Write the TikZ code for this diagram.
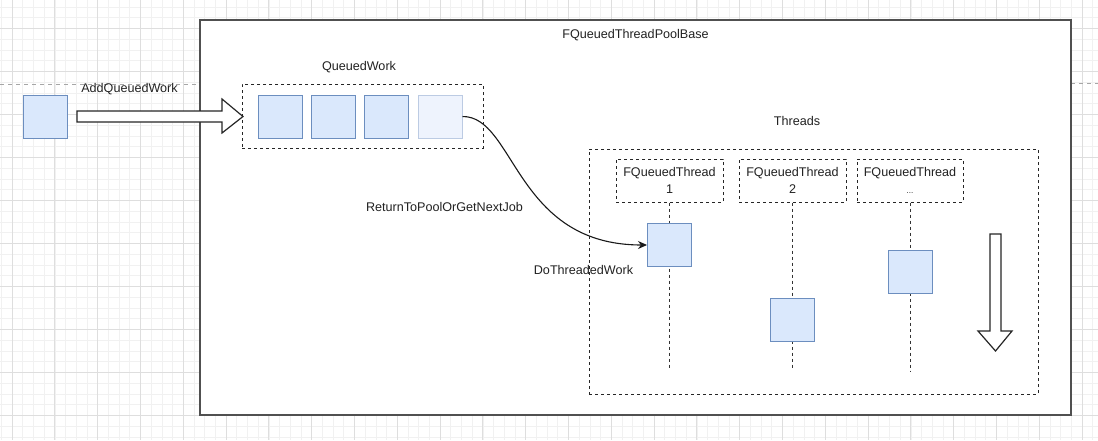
\documentclass[tikz,border=0pt]{standalone}
\usepackage{fontspec}
\setmainfont{Liberation Sans}
\usetikzlibrary{arrows.meta}
\definecolor{wfill}{HTML}{DAE8FC}
\definecolor{wdraw}{HTML}{6C8EBF}
\definecolor{lfill}{HTML}{EEF3FD}
\definecolor{ldraw}{HTML}{BCCBE3}
\definecolor{gmaj}{HTML}{DEDEDE}
\definecolor{gmin}{HTML}{F1F1F1}
\definecolor{txtc}{HTML}{222222}
\definecolor{boxc}{HTML}{505050}
\tikzset{
  work/.style={draw=wdraw, fill=wfill, line width=1pt, minimum width=44pt, minimum height=43pt, inner sep=0pt},
  ghost/.style={draw=ldraw, fill=lfill, line width=1pt, minimum width=44pt, minimum height=43pt, inner sep=0pt},
  txt/.style={font=\fontsize{12.6}{17}\selectfont, text=txtc, inner sep=0pt, align=center},
  dbox/.style={draw=black!85, dash pattern=on 3pt off 3pt, line width=1pt, inner sep=0pt},
  life/.style={draw=black!80, dash pattern=on 3pt off 3pt, line width=1pt},
  blockarrow/.style={draw=black!85, fill=white, line width=1.2pt, line join=miter},
}
\begin{document}
\begin{tikzpicture}[x=1pt,y=-1pt]
\useasboundingbox (0,0) rectangle (1098,440);
% background grid
\foreach \k in {-1,...,101} \draw[gmin, line width=0.6pt] ({12+10.7*\k},0) -- ({12+10.7*\k},440);
\foreach \k in {-2,...,38} \draw[gmin, line width=0.6pt] (0,{28.5+10.75*\k}) -- (1098,{28.5+10.75*\k});
\foreach \k in {0,...,25} \draw[gmaj, line width=0.8pt] ({12+42.8*\k},0) -- ({12+42.8*\k},440);
\foreach \k in {0,...,9} \draw[gmaj, line width=0.8pt] (0,{28.5+43*\k}) -- (1098,{28.5+43*\k});
\draw[black!35, dash pattern=on 4pt off 4pt, line width=0.8pt] (0,84) -- (200,84);
\draw[black!35, dash pattern=on 4pt off 4pt, line width=0.8pt] (1071,83) -- (1098,83);

% outer pool box
\node[draw=boxc, fill=white, line width=1.5pt, minimum width=871pt, minimum height=395pt, inner sep=0pt] (pool) at (635.5,217.5) {};
\node[txt] (poollbl) at (635.5,35) {FQueuedThreadPoolBase};

% incoming work
\node[work] (w0) at (45,116.5) {};
\coordinate (a0) at (77,111);
\draw[blockarrow] (77,111) -- (222,111) -- (222,99) -- (243,116.5) -- (222,133) -- (222,122) -- (77,122) -- cycle;
\node[txt] (addlbl) at (129.5,89) {AddQueuedWork};

% queue
\node[dbox, minimum width=241pt, minimum height=64pt] (queue) at (362.5,116) {};
\node[txt] (queuelbl) at (359,67) {QueuedWork};
\node[work] (q1) at (280,116.5) {};
\node[work] (q2) at (333.5,116.5) {};
\node[work] (q3) at (386.5,116.5) {};
\node[ghost] (q4) at (440,116.5) {};

% threads
\node[dbox, minimum width=449pt, minimum height=245pt] (threads) at (813.5,271.5) {};
\node[txt] (threadslbl) at (797,121) {Threads};

\node[dbox, minimum width=107pt, minimum height=43pt] (t1) at (669.5,180.5) {};
\node[dbox, minimum width=107pt, minimum height=43pt] (t2) at (792.5,180.5) {};
\node[dbox, minimum width=106pt, minimum height=43pt] (t3) at (910,180.5) {};
\node[txt] (t1lbl) at (669.5,180.5) {FQueuedThread\\1};
\node[txt] (t2lbl) at (792.5,180.5) {FQueuedThread\\2};
\node[txt] (t3lbl) at (910,180.5) {FQueuedThread\\{\fontsize{8}{10}\selectfont ...}};

\coordinate (e1) at (669.5,370);
\coordinate (e2) at (792.5,370);
\coordinate (e3) at (910,372);
\draw[life] (t1.south) -- (e1);
\draw[life] (t2.south) -- (e2);
\draw[life] (t3.south) -- (e3);

\node[work] (s1) at (669.5,245) {};
\node[work] (s2) at (792.5,320) {};
\node[work] (s3) at (910,271.5) {};

% down arrow
\draw[blockarrow] (990,234) -- (1001,234) -- (1001,331) -- (1012,331) -- (995.5,351) -- (978,331) -- (990,331) -- cycle;

% curve
\draw[black!90, line width=1.1pt, -{Stealth[length=9pt,width=8pt]}] (q4.east) .. controls (515,116) and (515,245) .. (s1.west);
\node[txt] (retlbl) at (444.5,207) {ReturnToPoolOrGetNextJob};
\node[txt] (dolbl) at (583.5,270) {DoThreadedWork};
\end{tikzpicture}
\end{document}
